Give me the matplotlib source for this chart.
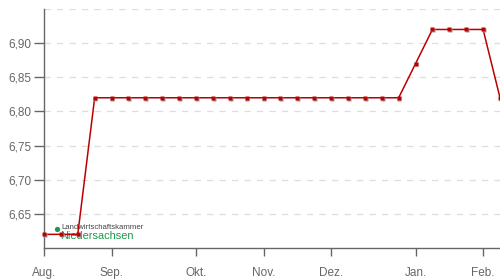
import matplotlib
matplotlib.use("Agg")
import matplotlib.pyplot as plt
from matplotlib.transforms import offset_copy

plt.rcParams['font.family'] = ['Liberation Sans', 'DejaVu Sans']

values = [6.62, 6.62, 6.62,
          6.82, 6.82, 6.82, 6.82, 6.82, 6.82, 6.82, 6.82, 6.82, 6.82,
          6.82, 6.82, 6.82, 6.82, 6.82, 6.82, 6.82, 6.82, 6.82,
          6.87, 6.92, 6.92, 6.92, 6.92, 6.82]
month_labels = ["Aug.", "Sep.", "Okt.", "Nov.", "Dez.", "Jan.", "Feb."]
month_positions = [0, 4, 9, 13, 17, 22, 26]
y_ticks = [6.65, 6.70, 6.75, 6.80, 6.85, 6.90]
y_tick_labels = ["6,65", "6,70", "6,75", "6,80", "6,85", "6,90"]

fig = plt.figure(figsize=(5, 2.8), dpi=100)
ax = fig.add_axes([0.088, 0.1143, 0.912, 0.8536])

x = list(range(len(values)))
grey = '#666666'

# grid
for g in [6.65, 6.70, 6.75, 6.80, 6.85, 6.90, 6.95]:
    ax.axhline(g, color='#dddddd', lw=0.9, ls=(0, (5, 5)), zorder=0)

# watermark
ax.plot([0.77], [6.628], ls='none', marker='o', ms=3.8, mfc='#1a9a4a', mec='none', zorder=1)
ax.text(1.0, 6.6275, "Landwirtschaftskammer", color='#444444', fontsize=5.6, ha='left',
        va='baseline', zorder=1)
ax.text(0.98, 6.6135, "Niedersachsen", color='#1a9a4a', fontsize=7.9, ha='left',
        va='baseline', zorder=1)

line_color = '#bb0000'
ax.plot(x, values, color=line_color, lw=1.1, zorder=3, clip_on=False)
shadow = offset_copy(ax.transData, fig=fig, x=0.8, y=-0.8, units='dots')
ax.plot(x, values, ls='none', marker='s', ms=2.4, mfc='#999999', mec='none',
        transform=shadow, zorder=4, clip_on=False)
ax.plot(x, values, ls='none', marker='s', ms=2.4, mfc=line_color, mec='none',
        zorder=5, clip_on=False)

ax.set_xlim(0, 27.0)
ax.set_ylim(6.60, 6.95)
ax.set_xticks(month_positions)
ax.set_xticklabels(month_labels)
ax.set_yticks(y_ticks)
ax.set_yticklabels(y_tick_labels)

for s in ['top', 'right']:
    ax.spines[s].set_visible(False)
for s in ['left', 'bottom']:
    ax.spines[s].set_color(grey)
    ax.spines[s].set_linewidth(1.0)

ax.tick_params(axis='y', length=7, width=1, color=grey, labelcolor=grey,
               labelsize=8.5, pad=2)
ax.tick_params(axis='x', length=6, width=1, color=grey, labelcolor=grey,
               labelsize=8.5, pad=8)

fig.savefig("out.png", dpi=100)
